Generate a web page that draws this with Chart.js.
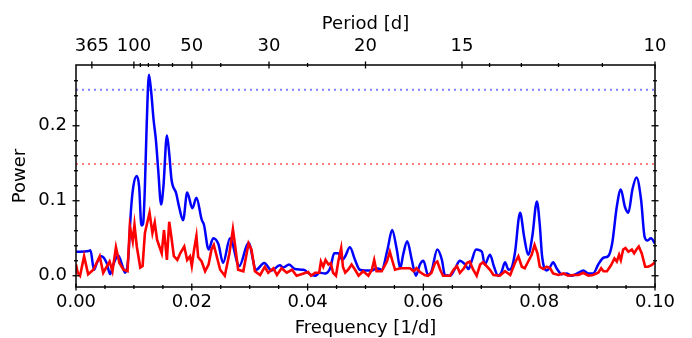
<!DOCTYPE html>
<html>
<head>
<meta charset="utf-8">
<script src="https://cdn.jsdelivr.net/npm/chart.js@4/dist/chart.umd.min.js"></script>
<style>
  body { margin: 0; background: #fff; }
  #wrap { width: 692px; height: 338px; }
</style>
</head>
<body>
<div id="wrap"><canvas id="periodogram" width="692" height="338"></canvas></div>
<script>
let blue = '#0000ff';
let red = '#ff0000';
let font = "'DejaVu Sans', sans-serif";

// blue periodogram
const blueFreq = [0.0000, 0.0022, 0.0025, 0.0031, 0.0036, 0.0044, 0.0053, 0.0059, 0.0064, 0.0073,
  0.0081, 0.0085, 0.0090, 0.0095, 0.0099, 0.0105, 0.0109, 0.0113, 0.0116, 0.0119,
  0.0122, 0.0126, 0.0130, 0.0134, 0.0138, 0.0142, 0.0147, 0.0151, 0.0157, 0.0161,
  0.0165, 0.0173, 0.0178, 0.0185, 0.0192, 0.0201, 0.0208, 0.0217, 0.0221, 0.0229,
  0.0237, 0.0246, 0.0254, 0.0266, 0.0282, 0.0298, 0.0311, 0.0325, 0.0338, 0.0352,
  0.0358, 0.0368, 0.0378, 0.0393, 0.0404, 0.0413, 0.0421, 0.0430, 0.0439, 0.0446,
  0.0453, 0.0460, 0.0465, 0.0473, 0.0482, 0.0490, 0.0499, 0.0511, 0.0519, 0.0528,
  0.0538, 0.0546, 0.0554, 0.0560, 0.0565, 0.0572, 0.0580, 0.0587, 0.0594, 0.0600,
  0.0608, 0.0614, 0.0624, 0.0632, 0.0637, 0.0646, 0.0655, 0.0663, 0.0672, 0.0678,
  0.0683, 0.0691, 0.0701, 0.0706, 0.0715, 0.0722, 0.0729, 0.0735, 0.0741, 0.0747,
  0.0752, 0.0758, 0.0767, 0.0774, 0.0781, 0.0788, 0.0796, 0.0801, 0.0805, 0.0813,
  0.0819, 0.0824, 0.0830, 0.0839, 0.0847, 0.0856, 0.0868, 0.0876, 0.0885, 0.0893,
  0.0902, 0.0911, 0.0919, 0.0926, 0.0934, 0.0941, 0.0948, 0.0954, 0.0961, 0.0968,
  0.0976, 0.0982, 0.0987, 0.0993, 0.1000];
const bluePower = [0.032, 0.033, 0.034, 0.008, 0.017, 0.026, 0.017, 0.002, 0.014, 0.027,
  0.011, 0.004, 0.021, 0.088, 0.119, 0.133, 0.119, 0.067, 0.070, 0.119,
  0.199, 0.268, 0.244, 0.208, 0.181, 0.141, 0.095, 0.119, 0.187, 0.163,
  0.128, 0.110, 0.092, 0.074, 0.111, 0.090, 0.104, 0.075, 0.068, 0.035,
  0.050, 0.042, 0.017, 0.050, 0.013, 0.044, 0.008, 0.017, 0.007, 0.014,
  0.011, 0.015, 0.009, 0.008, 0.002, 0.000, 0.004, 0.003, 0.010, 0.030,
  0.030, 0.021, 0.026, 0.038, 0.021, 0.008, 0.007, 0.007, 0.010, 0.008,
  0.035, 0.061, 0.035, 0.010, 0.028, 0.046, 0.021, 0.000, 0.015, 0.020,
  0.001, 0.006, 0.035, 0.021, 0.001, 0.000, 0.010, 0.020, 0.015, 0.009,
  0.019, 0.035, 0.032, 0.015, 0.028, 0.012, 0.000, 0.005, 0.018, 0.008,
  0.010, 0.030, 0.084, 0.052, 0.028, 0.052, 0.099, 0.068, 0.026, 0.007,
  0.012, 0.018, 0.010, 0.002, 0.003, 0.000, 0.004, 0.007, 0.003, 0.003,
  0.015, 0.024, 0.026, 0.043, 0.092, 0.115, 0.092, 0.084, 0.115, 0.131,
  0.101, 0.052, 0.047, 0.050, 0.043];

// red periodogram
const redFreq = [0.0000, 0.0003, 0.0007, 0.0014, 0.0021, 0.0030, 0.0041, 0.0047, 0.0058, 0.0063,
  0.0069, 0.0075, 0.0082, 0.0089, 0.0093, 0.0098, 0.0101, 0.0105, 0.0111, 0.0115,
  0.0119, 0.0127, 0.0132, 0.0136, 0.0140, 0.0144, 0.0148, 0.0152, 0.0157, 0.0161,
  0.0165, 0.0169, 0.0175, 0.0180, 0.0187, 0.0192, 0.0197, 0.0200, 0.0204, 0.0208,
  0.0211, 0.0217, 0.0223, 0.0229, 0.0234, 0.0238, 0.0243, 0.0249, 0.0257, 0.0265,
  0.0271, 0.0275, 0.0280, 0.0289, 0.0298, 0.0303, 0.0309, 0.0318, 0.0326, 0.0332,
  0.0341, 0.0347, 0.0355, 0.0364, 0.0373, 0.0381, 0.0393, 0.0401, 0.0406, 0.0413,
  0.0420, 0.0423, 0.0427, 0.0431, 0.0436, 0.0440, 0.0444, 0.0449, 0.0453, 0.0458,
  0.0461, 0.0465, 0.0470, 0.0476, 0.0482, 0.0488, 0.0496, 0.0505, 0.0511, 0.0515,
  0.0519, 0.0528, 0.0537, 0.0542, 0.0546, 0.0551, 0.0560, 0.0568, 0.0577, 0.0583,
  0.0588, 0.0594, 0.0602, 0.0608, 0.0614, 0.0620, 0.0624, 0.0629, 0.0634, 0.0646,
  0.0652, 0.0658, 0.0663, 0.0670, 0.0675, 0.0680, 0.0686, 0.0692, 0.0698, 0.0703,
  0.0709, 0.0715, 0.0721, 0.0732, 0.0741, 0.0750, 0.0758, 0.0764, 0.0770, 0.0775,
  0.0781, 0.0787, 0.0792, 0.0797, 0.0801, 0.0807, 0.0813, 0.0819, 0.0824, 0.0833,
  0.0842, 0.0850, 0.0859, 0.0868, 0.0876, 0.0885, 0.0893, 0.0902, 0.0907, 0.0911,
  0.0917, 0.0924, 0.0930, 0.0934, 0.0938, 0.0941, 0.0945, 0.0949, 0.0954, 0.0960,
  0.0964, 0.0968, 0.0972, 0.0977, 0.0983, 0.0988, 0.0994, 0.1000];
const redPower = [0.015, 0.004, 0.000, 0.026, 0.002, 0.008, 0.026, 0.004, 0.019, 0.006,
  0.038, 0.017, 0.008, 0.006, 0.066, 0.046, 0.068, 0.039, 0.011, 0.013,
  0.057, 0.084, 0.057, 0.071, 0.048, 0.039, 0.030, 0.061, 0.021, 0.072,
  0.050, 0.026, 0.021, 0.030, 0.039, 0.021, 0.026, 0.013, 0.035, 0.053,
  0.025, 0.019, 0.006, 0.015, 0.035, 0.041, 0.026, 0.008, 0.000, 0.030,
  0.062, 0.039, 0.008, 0.006, 0.043, 0.035, 0.006, 0.001, 0.012, 0.004,
  0.010, 0.001, 0.010, 0.004, 0.008, 0.000, 0.003, 0.005, 0.000, 0.004,
  0.004, 0.019, 0.012, 0.021, 0.015, 0.017, 0.004, 0.000, 0.019, 0.037,
  0.012, 0.004, 0.008, 0.015, 0.008, 0.000, 0.006, 0.000, 0.008, 0.021,
  0.006, 0.006, 0.019, 0.032, 0.021, 0.008, 0.010, 0.010, 0.010, 0.006,
  0.010, 0.005, 0.001, 0.000, 0.004, 0.017, 0.019, 0.008, 0.000, 0.000,
  0.008, 0.013, 0.004, 0.010, 0.017, 0.019, 0.008, 0.000, 0.015, 0.018,
  0.013, 0.008, 0.001, 0.000, 0.006, 0.001, 0.017, 0.026, 0.012, 0.010,
  0.019, 0.028, 0.041, 0.030, 0.012, 0.009, 0.012, 0.010, 0.003, 0.001,
  0.003, 0.000, 0.001, 0.001, 0.004, 0.000, 0.001, 0.004, 0.010, 0.006,
  0.006, 0.014, 0.023, 0.019, 0.028, 0.021, 0.035, 0.037, 0.032, 0.035,
  0.030, 0.035, 0.039, 0.030, 0.012, 0.012, 0.014, 0.018];

// significance levels (blue, red)
const thresholds = [0.248, 0.149];

// tick labels
const freqTicks = [0.00, 0.02, 0.04, 0.06, 0.08, 0.10];
const freqMinor = [0.005, 0.010, 0.015, 0.025, 0.030, 0.035, 0.045, 0.050, 0.055,
  0.065, 0.070, 0.075, 0.085, 0.090, 0.095];
const powerTicks = [0.0, 0.1, 0.2];
const powerMinor = [0.02, 0.04, 0.06, 0.08, 0.12, 0.14, 0.16, 0.18, 0.22, 0.24, 0.26];
const periodTicks = [365, 100, 50, 30, 20, 15, 10];
const periodMinor = [90, 80, 70, 60, 40, 25, 14, 13, 12, 11];

const xy = (xs, ys) => xs.map((x, i) => ({ x: x, y: ys[i] }));
const flat = (v) => [{ x: 0, y: v }, { x: 0.1, y: v }];

// frame and inout ticks, matplotlib style
const frameTicks = {
  id: 'frameTicks',
  afterDatasetsDraw(chart) {
    const { ctx, chartArea: a, scales } = chart;
    const line = (x1, y1, x2, y2) => {
      ctx.beginPath(); ctx.moveTo(x1, y1); ctx.lineTo(x2, y2); ctx.stroke();
    };
    ctx.save();
    ctx.strokeStyle = '#000';
    ctx.lineWidth = 1.3;
    const xt = (vals, len) => vals.forEach(v => {
      const px = scales.x.getPixelForValue(v);
      line(px, a.bottom - len, px, a.bottom + len);
    });
    const pt = (vals, len) => vals.forEach(p => {
      const px = scales.x2.getPixelForValue(1 / p);
      line(px, a.top - len, px, a.top + len);
    });
    const yt = (vals, len) => vals.forEach(v => {
      const py = scales.y.getPixelForValue(v);
      line(a.left - len, py, a.left + len, py);
      line(a.right - len, py, a.right + len, py);
    });
    xt(freqTicks, 3.5); xt(freqMinor, 2);
    pt(periodTicks, 3.5); pt(periodMinor, 2);
    yt(powerTicks, 3.5); yt(powerMinor, 2);
    ctx.lineWidth = 1.5;
    ctx.strokeRect(a.left, a.top, a.right - a.left, a.bottom - a.top);
    ctx.restore();
  }
};

const tickFont = { family: font, size: 18, lineHeight: 1 };

new Chart(document.getElementById('periodogram'), {
  type: 'line',
  data: {
    datasets: [
      { data: xy(redFreq, redPower), borderColor: red, borderWidth: 2.6, tension: 0, order: 1 },
      { data: xy(blueFreq, bluePower), borderColor: blue, borderWidth: 2.5,
        cubicInterpolationMode: 'monotone', order: 2 },
      { data: flat(thresholds[0]), borderColor: 'rgba(0,0,255,0.5)', borderWidth: 2,
        borderDash: [2, 4], order: 3 },
      { data: flat(thresholds[1]), borderColor: 'rgba(255,0,0,0.5)', borderWidth: 2,
        borderDash: [2, 4], order: 4 },
    ]
  },
  options: {
    responsive: false,
    animation: false,
    parsing: false,
    normalized: true,
    elements: { point: { radius: 0 } },
    layout: { padding: { left: 0, right: 37, top: 0, bottom: 0 } },
    plugins: { legend: { display: false }, tooltip: { enabled: false } },
    scales: {
      x: {
        type: 'linear', position: 'bottom', min: 0, max: 0.1,
        afterBuildTicks: (s) => { s.ticks = freqTicks.map(v => ({ value: v })); },
        afterFit: (s) => { s.height = 51; },
        grid: { display: false, drawTicks: false },
        border: { display: false },
        ticks: { color: '#000', font: tickFont, padding: 6, maxRotation: 0, autoSkip: false,
          callback: (v) => v.toFixed(2) },
        title: { display: true, text: 'Frequency [1/d]', color: '#000',
          font: { family: font, size: 18, lineHeight: 1 }, padding: { top: 0, bottom: 1 } }
      },
      x2: {
        type: 'linear', position: 'top', min: 0, max: 0.1,
        afterBuildTicks: (s) => { s.ticks = periodTicks.map(p => ({ value: 1 / p })); },
        afterFit: (s) => { s.height = 65; },
        grid: { display: false, drawTicks: false },
        border: { display: false },
        ticks: { color: '#000', font: tickFont, padding: 10, maxRotation: 0, autoSkip: false,
          callback: (v) => String(Math.round(1 / v)) },
        title: { display: true, text: 'Period [d]', color: '#000',
          font: { family: font, size: 18, lineHeight: 1 }, padding: { top: 15, bottom: 0 } }
      },
      y: {
        type: 'linear', position: 'left', min: -0.015, max: 0.281,
        afterBuildTicks: (s) => { s.ticks = powerTicks.map(v => ({ value: v })); },
        afterFit: (s) => { s.width = 76; },
        grid: { display: false, drawTicks: false },
        border: { display: false },
        ticks: { color: '#000', font: tickFont, padding: 9,
          callback: (v) => v.toFixed(1) },
        title: { display: true, text: 'Power', color: '#000',
          font: { family: font, size: 18, lineHeight: 1 }, padding: { top: 11, bottom: 0 } }
      }
    }
  },
  plugins: [frameTicks]
});
</script>
</body>
</html>
